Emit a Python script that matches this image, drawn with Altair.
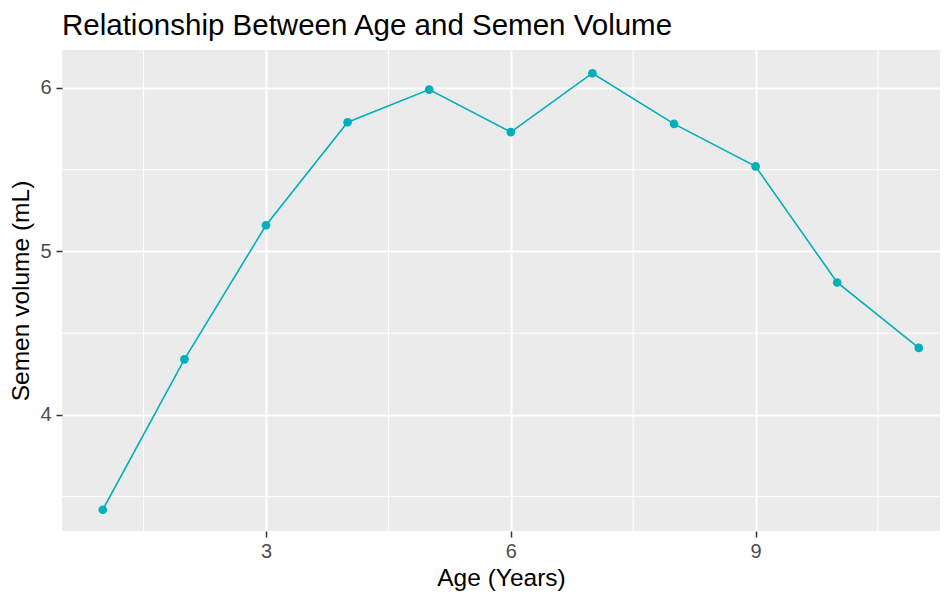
import altair as alt
import pandas as pd

# Data
age = [1, 2, 3, 4, 5, 6, 7, 8, 9, 10, 11]
volume = [3.42, 4.34, 5.16, 5.79, 5.99, 5.73, 6.09, 5.78, 5.52, 4.81, 4.41]

x_major = [3, 6, 9]
x_minor = [1.5, 4.5, 7.5, 10.5]
y_major = [4, 5, 6]
y_minor = [3.5, 4.5, 5.5]

x_domain = [0.5, 11.26]
y_domain = [3.29, 6.232]

FONT = "Liberation Sans"
LINE_COLOR = "#00AFBB"

df = pd.DataFrame({"age": age, "volume": volume})
xmin_df = pd.DataFrame({"v": x_minor})
ymin_df = pd.DataFrame({"v": y_minor})

xs = alt.Scale(domain=x_domain, nice=False, zero=False)
ys = alt.Scale(domain=y_domain, nice=False, zero=False)

x_axis = alt.Axis(
    values=x_major, title="Age (Years)", grid=True, gridColor="white", gridWidth=2,
    domain=False, tickColor="#333333", tickSize=6, tickWidth=1.5,
    labelFont=FONT, labelFontSize=20, labelColor="#4D4D4D", labelPadding=4,
    titleFont=FONT, titleFontSize=24.5, titleFontWeight="normal", titleColor="black",
    titlePadding=5,
)
y_axis = alt.Axis(
    values=y_major, title="Semen volume (mL)", grid=True, gridColor="white", gridWidth=2,
    domain=False, tickColor="#333333", tickSize=6, tickWidth=1.5,
    labelFont=FONT, labelFontSize=20, labelColor="#4D4D4D", labelPadding=5,
    titleFont=FONT, titleFontSize=24.5, titleFontWeight="normal", titleColor="black",
    titlePadding=6,
)

vminor = alt.Chart(xmin_df).mark_rule(color="white", strokeWidth=1).encode(
    x=alt.X("v:Q", scale=xs, axis=x_axis)
)
hminor = alt.Chart(ymin_df).mark_rule(color="white", strokeWidth=1).encode(
    y=alt.Y("v:Q", scale=ys, axis=y_axis)
)

line = alt.Chart(df).mark_line(color=LINE_COLOR, strokeWidth=1.6).encode(
    x=alt.X("age:Q", scale=xs, axis=x_axis),
    y=alt.Y("volume:Q", scale=ys, axis=y_axis),
)
points = alt.Chart(df).mark_circle(color=LINE_COLOR, size=75, opacity=1).encode(
    x=alt.X("age:Q", scale=xs, axis=x_axis),
    y=alt.Y("volume:Q", scale=ys, axis=y_axis),
)

chart = (
    alt.layer(vminor, hminor, line, points)
    .properties(
        width=878,
        height=481,
        title=alt.TitleParams(
            "Relationship Between Age and Semen Volume",
            anchor="start", frame="group", font=FONT, fontSize=29.5,
            fontWeight="normal", color="black", offset=8,
        ),
        autosize=alt.AutoSizeParams(type="none"),
        padding={"left": 54, "top": 42, "right": 0, "bottom": 60},
        background="white",
    )
    .configure_view(fill="#EBEBEB", stroke=None)
)

chart.save("out.html", embed_options={"renderer": "svg", "actions": False})
